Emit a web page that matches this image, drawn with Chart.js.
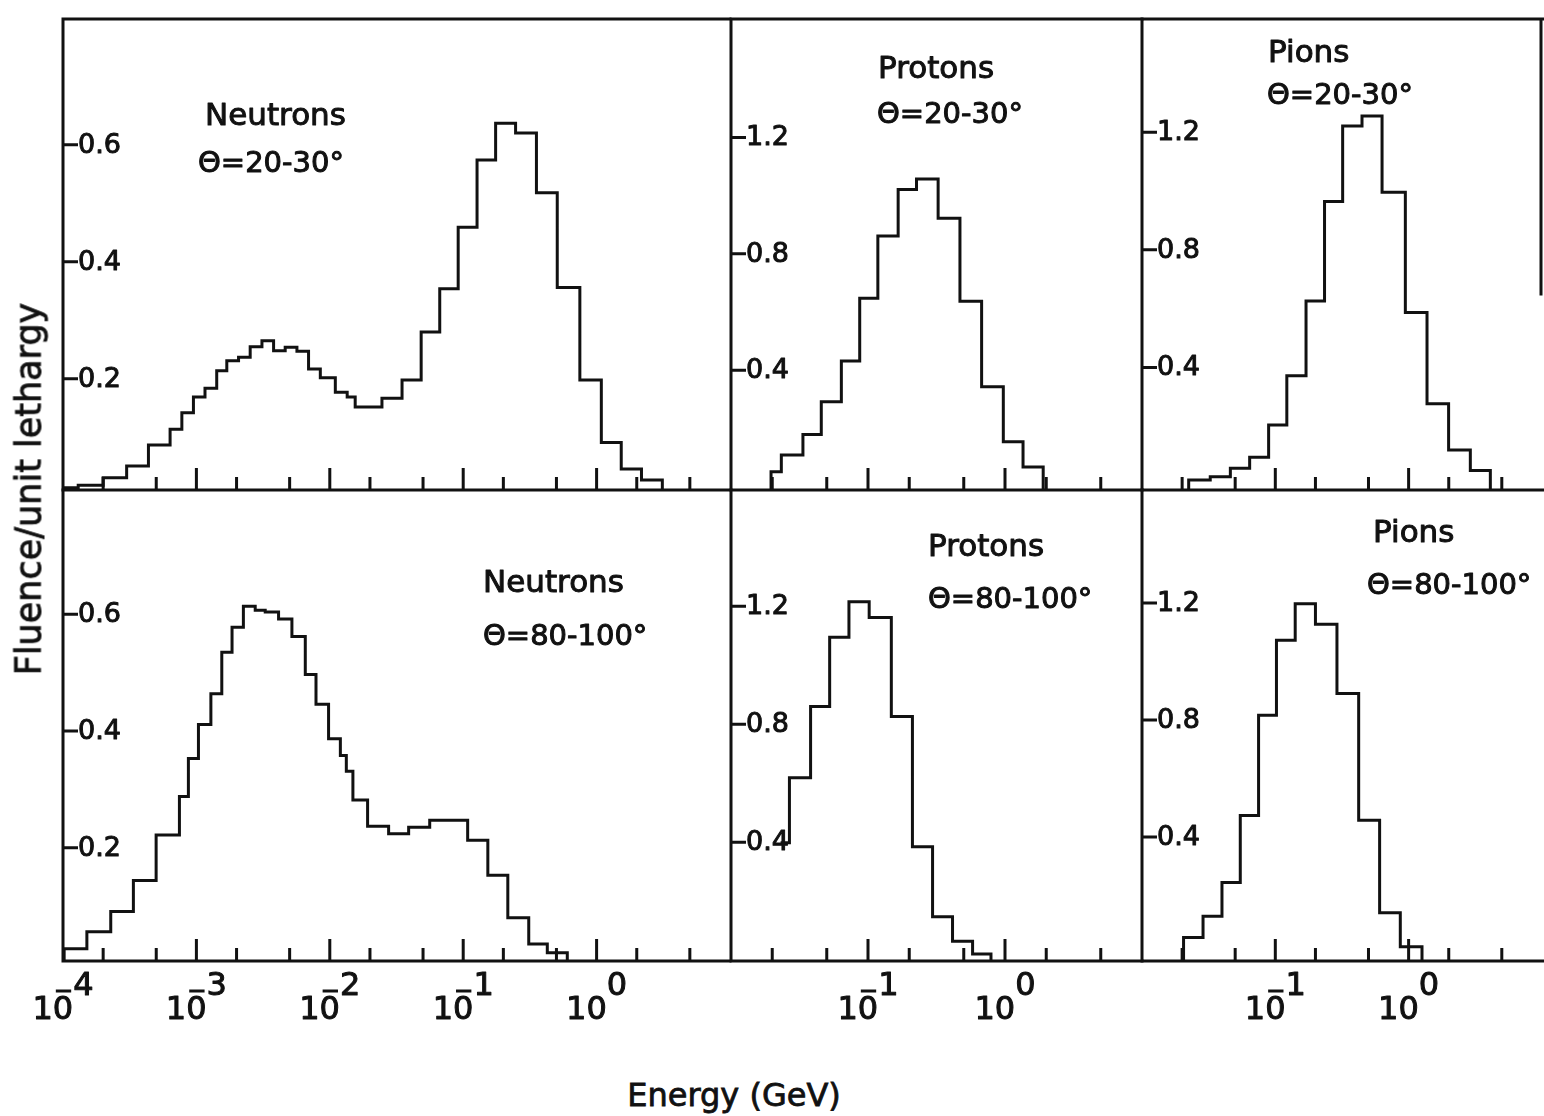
<!DOCTYPE html>
<html>
<head>
<meta charset="utf-8">
<title>Fluence per unit lethargy</title>
<script src="https://cdn.jsdelivr.net/npm/chart.js@4.4.1/dist/chart.umd.min.js"></script>
<style>
  html, body { margin: 0; padding: 0; background: #fff; }
  body { width: 1544px; height: 1116px; position: relative; overflow: hidden; font-family: 'DejaVu Sans', sans-serif; color: #111; }
  canvas { position: absolute; }
  .axis-title { position: absolute; white-space: nowrap; line-height: 1; -webkit-text-stroke: 0.8px #111; }
  #xTitle { left: 734px; top: 1079px; font-size: 32px; transform: translateX(-50%); }
  #yTitle { left: 29px; top: 489px; font-size: 35px; transform: translate(-50%, -50%) rotate(-90deg); }
</style>
</head>
<body>
<canvas id="neutron20"></canvas>
<canvas id="proton20"></canvas>
<canvas id="pion20"></canvas>
<canvas id="neutron80"></canvas>
<canvas id="proton80"></canvas>
<canvas id="pion80"></canvas>
<div id="xTitle" class="axis-title">Energy (GeV)</div>
<div id="yTitle" class="axis-title">Fluence/unit lethargy</div>
<script>
// Bin edges in GeV and fluence per unit lethargy.
const neutronEdges20 = [1.02e-4, 1.30e-4, 2.0e-4, 3.0e-4, 4.37e-4, 6.35e-4, 7.78e-4, 9.50e-4, 1.16e-3, 1.42e-3,
  1.69e-3, 2.07e-3, 2.53e-3, 3.10e-3, 3.79e-3, 4.63e-3, 5.67e-3, 6.93e-3, 8.49e-3, 1.10e-2, 1.35e-2, 1.55e-2,
  1.95e-2, 2.46e-2, 3.48e-2, 4.84e-2, 6.67e-2, 9.17e-2, 0.127, 0.175, 0.247, 0.354, 0.507, 0.749, 1.085, 1.53,
  2.17, 3.11];
const neutronFluence20 = [0.014, 0.018, 0.031, 0.051, 0.087, 0.114, 0.142, 0.169, 0.184, 0.214, 0.231, 0.237,
  0.255, 0.265, 0.248, 0.254, 0.247, 0.217, 0.202, 0.177, 0.169, 0.152, 0.152, 0.167, 0.198, 0.280, 0.354,
  0.459, 0.574, 0.637, 0.620, 0.518, 0.356, 0.198, 0.091, 0.046, 0.027];

const neutronEdges80 = [1.02e-4, 1.51e-4, 2.28e-4, 3.37e-4, 4.99e-4, 7.46e-4, 8.71e-4, 1.036e-3, 1.284e-3,
  1.55e-3, 1.85e-3, 2.25e-3, 2.76e-3, 3.28e-3, 4.13e-3, 5.20e-3, 6.55e-3, 7.88e-3, 9.79e-3, 1.20e-2, 1.33e-2,
  1.49e-2, 1.92e-2, 2.76e-2, 3.90e-2, 5.61e-2, 7.79e-2, 0.108, 0.153, 0.216, 0.310, 0.427, 0.603];
const neutronFluence80 = [0.027, 0.056, 0.091, 0.144, 0.222, 0.288, 0.353, 0.411, 0.464, 0.535, 0.578, 0.614,
  0.607, 0.604, 0.592, 0.562, 0.497, 0.446, 0.387, 0.358, 0.331, 0.282, 0.237, 0.224, 0.235, 0.247, 0.247,
  0.213, 0.153, 0.080, 0.035, 0.020];

const protonEdges20 = [1.96e-2, 2.33e-2, 3.35e-2, 4.56e-2, 6.39e-2, 8.70e-2, 0.118, 0.166, 0.226, 0.325, 0.469,
  0.675, 0.972, 1.354, 1.90];
const protonFluence20 = [0.051, 0.108, 0.179, 0.291, 0.431, 0.647, 0.861, 1.021, 1.057, 0.922, 0.637, 0.343,
  0.154, 0.067];

const protonEdges80 = [2.30e-2, 2.67e-2, 3.81e-2, 5.25e-2, 7.26e-2, 0.102, 0.148, 0.211, 0.296, 0.414, 0.580, 0.790];
const protonFluence80 = [0.398, 0.618, 0.860, 1.095, 1.215, 1.162, 0.826, 0.384, 0.147, 0.064, 0.021];

const pionEdges20 = [2.24e-2, 3.25e-2, 4.60e-2, 6.42e-2, 8.91e-2, 0.122, 0.170, 0.234, 0.320, 0.447, 0.632, 0.945,
  1.374, 1.995, 2.903, 4.102];
const pionFluence20 = [0.017, 0.028, 0.057, 0.094, 0.204, 0.372, 0.626, 0.964, 1.221, 1.255, 0.996, 0.587, 0.276,
  0.119, 0.049];

const pionEdges80 = [2.05e-2, 2.87e-2, 3.98e-2, 5.46e-2, 7.49e-2, 0.102, 0.141, 0.200, 0.290, 0.422, 0.606, 0.866, 1.26];
const pionFluence80 = [0.056, 0.129, 0.244, 0.473, 0.816, 1.072, 1.197, 1.127, 0.890, 0.457, 0.141, 0.025];

// axis ticks
const neutronYTicks = [0.2, 0.4, 0.6];
const chargedYTicks = [0.4, 0.8, 1.2];
const neutronDecades = [-4, -3, -2, -1, 0];
const chargedDecades = [-1, 0];
const tickMantissas = [1, 2, 5];

const ink = "#111";
const family = "'DejaVu Sans', sans-serif";

// step outline of a histogram; ends drop to the axis unless openStart
function histogramPoints(edges, values, base, openStart) {
  const pts = [];
  if (!openStart) pts.push({ x: edges[0], y: base });
  values.forEach((v, i) => pts.push({ x: edges[i], y: v }));
  pts.push({ x: edges[edges.length - 1], y: values[values.length - 1] });
  pts.push({ x: edges[edges.length - 1], y: base });
  return pts;
}

// scanned lettering is heavy, so every label gets a thin outline too
function inkText(ctx, text, x, y) {
  ctx.fillText(text, x, y);
  ctx.strokeText(text, x, y);
}

const panelFrame = {
  id: "panelFrame",
  afterDraw(chart, args, o) {
    const { ctx, chartArea: a } = chart;
    const xs = chart.scales.x;
    const ys = chart.scales.y;
    ctx.save();
    ctx.strokeStyle = ink;
    ctx.fillStyle = ink;
    ctx.lineWidth = 3;
    ctx.lineCap = "square";

    ctx.beginPath();
    if (o.topBorder) {
      ctx.moveTo(a.left, a.top);
      ctx.lineTo(a.right + o.overhang, a.top);
    }
    ctx.moveTo(a.left, a.top);
    ctx.lineTo(a.left, a.bottom);
    ctx.moveTo(a.left, a.bottom);
    ctx.lineTo(a.right + o.overhang, a.bottom);
    if (o.rightBorderTo != null) {
      ctx.moveTo(a.right, a.top);
      ctx.lineTo(a.right, ys.getPixelForValue(o.rightBorderTo));
    }
    ctx.stroke();

    // inward x ticks at 1, 2, 5 of every decade
    ctx.lineCap = "butt";
    ctx.beginPath();
    const lo = Math.floor(Math.log10(xs.min));
    const hi = Math.ceil(Math.log10(xs.max));
    for (let d = lo; d <= hi; d++) {
      tickMantissas.forEach((m) => {
        const v = m * Math.pow(10, d);
        if (v <= xs.min * 1.001 || v >= xs.max * 0.999) return;
        const px = xs.getPixelForValue(v);
        const len = m === 1 ? 22 : 13;
        ctx.moveTo(px, a.bottom);
        ctx.lineTo(px, a.bottom - len);
      });
    }
    // inward y ticks
    o.yTicks.forEach((v) => {
      const py = ys.getPixelForValue(v);
      ctx.moveTo(a.left, py);
      ctx.lineTo(a.left + 15, py);
    });
    ctx.stroke();

    ctx.lineWidth = 1;
    ctx.lineJoin = "round";
    ctx.font = "27px " + family;
    ctx.textAlign = "left";
    ctx.textBaseline = "middle";
    o.yTicks.forEach((v) => {
      inkText(ctx, v.toFixed(1), a.left + 15, ys.getPixelForValue(v) + 1);
    });

    // panel captions
    ctx.textBaseline = "alphabetic";
    o.captions.forEach((c) => {
      ctx.font = c.size + "px " + family;
      inkText(ctx, c.text, a.left + c.dx, a.top + c.dy);
    });

    // decade labels under the bottom row: 10 with a low-set minus over the 0
    if (o.decades) {
      ctx.font = "32px " + family;
      const w0 = ctx.measureText("0").width;
      o.decades.forEach((d) => {
        const px = xs.getPixelForValue(Math.pow(10, d));
        ctx.lineWidth = 1;
        ctx.textAlign = "right";
        inkText(ctx, "10", px + w0 / 2, a.bottom + 58);
        ctx.textAlign = "left";
        inkText(ctx, String(Math.abs(d)), px + w0 / 2, a.bottom + 34);
        if (d < 0) {
          ctx.lineWidth = 3;
          ctx.beginPath();
          ctx.moveTo(px - w0 / 2 + 3, a.bottom + 30);
          ctx.lineTo(px + w0 / 2 - 2, a.bottom + 30);
          ctx.stroke();
        }
      });
    }
    ctx.restore();
  }
};

function makePanel(id, box, spec) {
  const pad = { left: 45, right: spec.padRight || 10, top: 10, bottom: spec.decades ? 75 : 10 };
  const canvas = document.getElementById(id);
  canvas.width = box.right - box.left + pad.left + pad.right;
  canvas.height = box.bottom - box.top + pad.top + pad.bottom;
  canvas.style.left = (box.left - pad.left) + "px";
  canvas.style.top = (box.top - pad.top) + "px";

  return new Chart(canvas, {
    type: "line",
    data: {
      datasets: [{
        data: histogramPoints(spec.edges, spec.values, spec.yMin, spec.openStart),
        stepped: "before",
        borderColor: ink,
        borderWidth: 3,
        borderJoinStyle: "miter",
        pointRadius: 0,
        fill: false
      }]
    },
    options: {
      responsive: false,
      animation: false,
      devicePixelRatio: 1,
      layout: { padding: pad },
      plugins: {
        legend: { display: false },
        tooltip: { enabled: false },
        panelFrame: {
          topBorder: spec.topBorder,
          overhang: spec.overhang || 0,
          rightBorderTo: spec.rightBorderTo,
          yTicks: spec.yTicks,
          decades: spec.decades,
          captions: spec.captions
        }
      },
      scales: {
        x: { type: "logarithmic", min: spec.xMin, max: spec.xMax, display: false },
        y: { type: "linear", min: spec.yMin, max: spec.yMax, display: false }
      }
    },
    plugins: [panelFrame]
  });
}

makePanel("neutron20", { left: 63, top: 19, right: 730, bottom: 490 }, {
  edges: neutronEdges20, values: neutronFluence20, xMin: 1e-4, xMax: 10, yMin: 0.01, yMax: 0.815,
  yTicks: neutronYTicks, topBorder: true,
  captions: [{ text: "Neutrons", size: 31, dx: 142, dy: 106 }, { text: "\u0398=20-30\u00b0", size: 29, dx: 135, dy: 153 }]
});
makePanel("proton20", { left: 731, top: 19, right: 1142, bottom: 490 }, {
  edges: protonEdges20, values: protonFluence20, xMin: 1e-2, xMax: 10, yMin: -0.012, yMax: 1.607,
  yTicks: chargedYTicks, topBorder: true,
  captions: [{ text: "Protons", size: 31, dx: 147, dy: 59 }, { text: "\u0398=20-30\u00b0", size: 29, dx: 146, dy: 104 }]
});
makePanel("pion20", { left: 1142, top: 19, right: 1541, bottom: 490 }, {
  edges: pionEdges20, values: pionFluence20, xMin: 1e-2, xMax: 9.84, yMin: -0.017, yMax: 1.585,
  yTicks: chargedYTicks, topBorder: true, overhang: 3, padRight: 3, rightBorderTo: 0.65,
  captions: [{ text: "Pions", size: 31, dx: 126, dy: 43 }, { text: "\u0398=20-30\u00b0", size: 29, dx: 125, dy: 85 }]
});
makePanel("neutron80", { left: 63, top: 490, right: 730, bottom: 961 }, {
  edges: neutronEdges80, values: neutronFluence80, xMin: 1e-4, xMax: 10, yMin: 0.006, yMax: 0.813,
  yTicks: neutronYTicks, decades: neutronDecades,
  captions: [{ text: "Neutrons", size: 31, dx: 420, dy: 102 }, { text: "\u0398=80-100\u00b0", size: 29, dx: 420, dy: 155 }]
});
makePanel("proton80", { left: 731, top: 490, right: 1142, bottom: 961 }, {
  edges: protonEdges80, values: protonFluence80, xMin: 1e-2, xMax: 10, yMin: -0.003, yMax: 1.594,
  yTicks: chargedYTicks, decades: chargedDecades, openStart: true,
  captions: [{ text: "Protons", size: 31, dx: 197, dy: 66 }, { text: "\u0398=80-100\u00b0", size: 29, dx: 197, dy: 118 }]
});
makePanel("pion80", { left: 1142, top: 490, right: 1541, bottom: 961 }, {
  edges: pionEdges80, values: pionFluence80, xMin: 1e-2, xMax: 9.84, yMin: -0.024, yMax: 1.586,
  yTicks: chargedYTicks, decades: chargedDecades, overhang: 3, padRight: 3,
  captions: [{ text: "Pions", size: 31, dx: 231, dy: 52 }, { text: "\u0398=80-100\u00b0", size: 29, dx: 225, dy: 104 }]
});
</script>
</body>
</html>
